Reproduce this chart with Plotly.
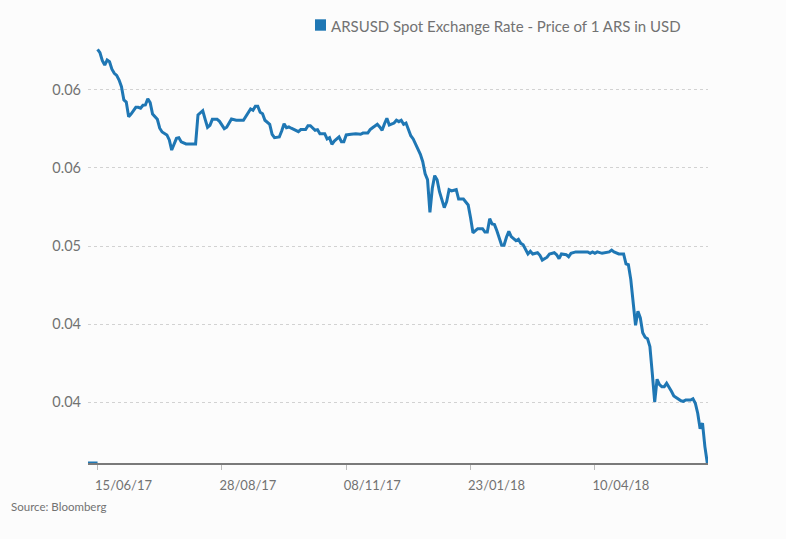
import plotly.graph_objects as go

# ---- data ----
series_name = "ARSUSD Spot Exchange Rate - Price of 1 ARS in USD"
source_text = "Source: Bloomberg"

# trading-day number since 15/06/17 and the rate on that day
days = [0, 1, 2, 3, 4, 5, 6, 7, 8, 9, 10, 11, 12, 13, 14, 16, 17, 18, 19, 20,
        21, 22, 23, 25, 26, 27, 29, 30, 31, 32, 33, 34, 35, 37, 41, 42, 44, 45, 46, 47,
        48, 50, 51, 53, 54, 56, 58, 61, 63, 64, 65, 66, 67, 68, 69, 70, 72, 73, 74, 76,
        77, 78, 79, 80, 81, 82, 84, 85, 87, 88, 89, 91, 92, 93, 95, 96, 97, 98, 99, 101,
        102, 103, 104, 106, 108, 110, 111, 113, 114, 115, 117, 118, 119, 120, 121, 122, 124, 125, 126, 127,
        128, 129, 130, 131, 132, 133, 135, 136, 137, 138, 139, 140, 141, 142, 143, 145, 146, 147, 148, 150,
        151, 153, 155, 156, 157, 159, 161, 162, 163, 164, 165, 166, 167, 169, 170, 171, 172, 173, 175, 176,
        177, 178, 179, 180, 181, 182, 184, 185, 186, 188, 189, 191, 192, 193, 194, 196, 197, 198, 200, 202,
        205, 206, 207, 208, 209, 211, 213, 214, 215, 216, 218, 220, 221, 222, 223, 224, 225, 226, 227, 228,
        229, 230, 231, 232, 233, 234, 235, 236, 237, 238, 239, 240, 241, 243, 244, 245, 246, 248, 249, 250,
        251, 252, 253, 254, 255]
rates = [0.06261, 0.06239, 0.06188, 0.06160, 0.06192, 0.06181, 0.06133, 0.06107, 0.06094, 0.06064,
         0.06021, 0.05936, 0.05923, 0.05829, 0.05846, 0.05889, 0.05889, 0.05883, 0.05902, 0.05904,
         0.05944, 0.05919, 0.05846, 0.05812, 0.05755, 0.05731, 0.05712, 0.05680, 0.05615, 0.05658,
         0.05690, 0.05694, 0.05667, 0.05654, 0.05654, 0.05840, 0.05867, 0.05812, 0.05761, 0.05774,
         0.05812, 0.05812, 0.05799, 0.05752, 0.05761, 0.05814, 0.05806, 0.05806, 0.05857, 0.05878,
         0.05870, 0.05896, 0.05896, 0.05857, 0.05848, 0.05806, 0.05780, 0.05716, 0.05694, 0.05699,
         0.05737, 0.05784, 0.05758, 0.05763, 0.05755, 0.05746, 0.05733, 0.05746, 0.05746, 0.05771,
         0.05771, 0.05742, 0.05746, 0.05720, 0.05720, 0.05686, 0.05694, 0.05652, 0.05673, 0.05699,
         0.05669, 0.05669, 0.05712, 0.05716, 0.05720, 0.05716, 0.05724, 0.05724, 0.05746, 0.05758,
         0.05780, 0.05763, 0.05742, 0.05784, 0.05819, 0.05776, 0.05788, 0.05806, 0.05797, 0.05806,
         0.05780, 0.05788, 0.05746, 0.05707, 0.05686, 0.05652, 0.05588, 0.05540, 0.05463, 0.05425,
         0.05216, 0.05370, 0.05451, 0.05425, 0.05348, 0.05246, 0.05284, 0.05361, 0.05353, 0.05361,
         0.05301, 0.05301, 0.05263, 0.05181, 0.05085, 0.05111, 0.05111, 0.05090, 0.05090, 0.05175,
         0.05141, 0.05137, 0.05098, 0.05005, 0.05005, 0.05056, 0.05094, 0.05060, 0.05034, 0.05043,
         0.05017, 0.05008, 0.04974, 0.04949, 0.04966, 0.04949, 0.04957, 0.04940, 0.04910, 0.04928,
         0.04949, 0.04957, 0.04944, 0.04919, 0.04949, 0.04944, 0.04931, 0.04953, 0.04962, 0.04962,
         0.04962, 0.04953, 0.04962, 0.04953, 0.04962, 0.04953, 0.04957, 0.04962, 0.04974, 0.04962,
         0.04949, 0.04949, 0.04885, 0.04880, 0.04786, 0.04633, 0.04492, 0.04581, 0.04539, 0.04444,
         0.04415, 0.04406, 0.04355, 0.04184, 0.04000, 0.04146, 0.04111, 0.04098, 0.04098, 0.04120,
         0.04098, 0.04069, 0.04039, 0.04017, 0.04008, 0.04004, 0.04013, 0.04013, 0.04021, 0.03992,
         0.03928, 0.03829, 0.03865, 0.03714, 0.03609]

# short stub drawn on the baseline before the first observation
stub_days = [-4, 0]
stub_rates = [0.03609, 0.03609]

x_tick_days = [0, 52, 104, 156, 208]
x_tick_labels = ["15/06/17", "28/08/17", "08/11/17", "23/01/18", "10/04/18"]
y_tick_vals = [0.040, 0.045, 0.050, 0.055, 0.060]
y_tick_labels = ["0.04", "0.04", "0.05", "0.06", "0.06"]

# ---- style ----
BLUE = "#1f77b4"
GREY_TXT = "#727272"
FONT = "Lato"
BG = "#fcfcfc"

fig = go.Figure()
fig.add_trace(go.Scatter(x=stub_days, y=stub_rates, mode="lines",
                         line=dict(color=BLUE, width=3), showlegend=False,
                         hoverinfo="skip"))
fig.add_trace(go.Scatter(x=days, y=rates, mode="lines", name=series_name,
                         line=dict(color=BLUE, width=3), showlegend=False))

fig.update_layout(
    width=786, height=539,
    margin=dict(l=88, r=78, t=45, b=76, pad=0),
    paper_bgcolor=BG, plot_bgcolor=BG,
    font=dict(family=FONT, color=GREY_TXT),
    showlegend=False,
)

fig.update_xaxes(
    range=[-4, 255.3],
    tickmode="array", tickvals=x_tick_days, ticktext=x_tick_labels,
    ticks="outside", ticklen=5, tickwidth=1, tickcolor="#bbbbbb",
    tickfont=dict(size=13, color=GREY_TXT, family=FONT),
    ticklabelshift=26, ticklabelstandoff=4,
    showline=True, linecolor="#7a7a7a", linewidth=2,
    showgrid=False, zeroline=False,
)
fig.update_yaxes(
    range=[0.03609, 0.062884],
    tickmode="array", tickvals=y_tick_vals, ticktext=y_tick_labels,
    ticks="", tickfont=dict(size=14.5, color=GREY_TXT, family=FONT),
    ticklabelstandoff=6,
    showgrid=True, gridcolor="#d2d2d2", gridwidth=1, griddash="dot",
    showline=False, zeroline=False,
)

# legend-like key above the plot
fig.add_shape(type="rect", xref="paper", yref="paper",
              x0=(315 - 88) / 620, x1=(326 - 88) / 620,
              y0=(463 - 30.7) / 418, y1=(463 - 19.3) / 418,
              fillcolor=BLUE, line=dict(width=0))
fig.add_annotation(text=series_name, xref="paper", yref="paper",
                   x=(329 - 88) / 620, y=(463 - 25.5) / 418,
                   xanchor="left", yanchor="middle", showarrow=False,
                   font=dict(size=15, color=GREY_TXT, family=FONT))
fig.add_annotation(text=source_text, xref="paper", yref="paper",
                   x=(9 - 88) / 620, y=(463 - 506.5) / 418,
                   xanchor="left", yanchor="middle", showarrow=False,
                   font=dict(size=11.5, color=GREY_TXT, family=FONT))

fig.write_html("out.html", config={"displayModeBar": False},
               post_script="document.body.style.margin='0px';")
